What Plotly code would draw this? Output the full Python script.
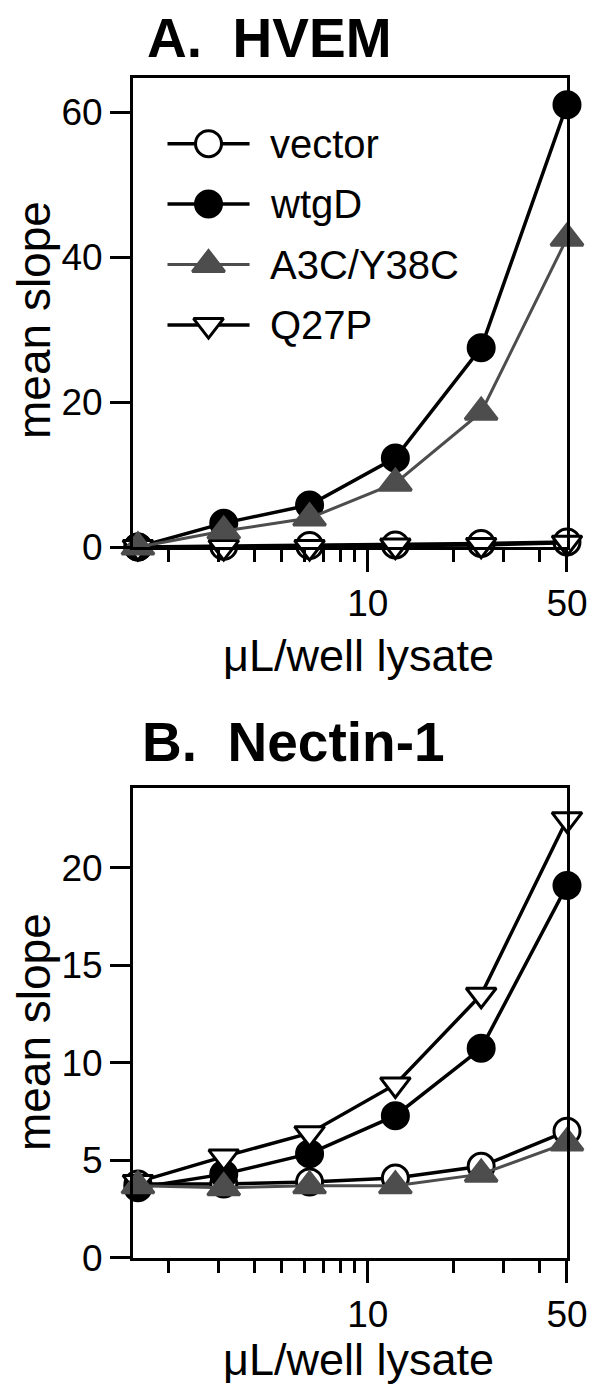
import plotly.graph_objects as go

# two-fold dilutions of lysate (uL/well)
lysate = [1.5625, 3.125, 6.25, 12.5, 25, 50]

# A. HVEM
hvem_vector = [0.0, 0.1, 0.2, 0.3, 0.5, 0.7]
hvem_wtgd = [0.0, 3.3, 5.8, 12.3, 27.5, 61.0]
hvem_a3c = [0.0, 2.2, 4.0, 8.8, 18.6, 42.6]
hvem_q27p = [0.0, 0.0, 0.0, 0.2, 0.3, 0.6]

# B. Nectin-1
nectin_vector = [3.8, 3.8, 3.9, 4.1, 4.7, 6.5]
nectin_wtgd = [3.6, 4.3, 5.35, 7.3, 10.75, 19.1]
nectin_a3c = [3.7, 3.6, 3.7, 3.7, 4.3, 5.9]
nectin_q27p = [3.9, 5.2, 6.4, 8.9, 13.5, 22.5]

series_names = ["vector", "wtgD", "A3C/Y38C", "Q27P"]
y_ticks_a = [0, 20, 40, 60]
y_ticks_b = [0, 5, 10, 15, 20]
x_ticks = [10, 50]
x_minor = [2, 3, 4, 5, 6, 7, 8, 9, 20, 30, 40]

FONT = "Liberation Sans, Arial, Helvetica, sans-serif"
GRAY = "#4d4d4d"

STYLE = {
    "vector": dict(symbol="circle", size=26, color="white", line="black", lw=3.5),
    "wtgD": dict(symbol="circle", size=26, color="black", line="black", lw=3.5),
    "A3C/Y38C": dict(symbol="triangle-up", size=28, color=GRAY, line=GRAY, lw=3),
    "Q27P": dict(symbol="triangle-down", size=26, color="white", line="black", lw=3.5),
}


def series_trace(name, xs, ys, xa, ya):
    s = STYLE[name]
    return go.Scatter(
        x=xs, y=ys, mode="lines+markers", name=name, showlegend=False,
        xaxis=xa, yaxis=ya, cliponaxis=False,
        line=dict(color=s["line"], width=s["lw"]),
        marker=dict(symbol=s["symbol"], size=s["size"], color=s["color"],
                    line=dict(color=s["line"], width=3)),
    )


fig = go.Figure()

panels = [
    ("x", "y", dict(zip(series_names, [hvem_vector, hvem_wtgd, hvem_a3c, hvem_q27p]))),
    ("x2", "y2", dict(zip(series_names, [nectin_vector, nectin_wtgd, nectin_a3c, nectin_q27p]))),
]
# draw order: open circles, filled circles, open triangles, grey triangles on top
for xa, ya, data in panels:
    for name in ["vector", "wtgD", "Q27P", "A3C/Y38C"]:
        fig.add_trace(series_trace(name, lysate, data[name], xa, ya))

# hand-drawn legend inside panel A (hidden axes x3/y3)
LEG_X = [0.079, 0.269]
LEG_Y = [0.765, 0.970]
for i, name in enumerate(series_names):
    s = STYLE[name]
    fig.add_trace(go.Scatter(x=[0, 1], y=[i, i], mode="lines", showlegend=False,
                             xaxis="x3", yaxis="y3", hoverinfo="skip",
                             line=dict(color=s["line"], width=s["lw"])))
    fig.add_trace(go.Scatter(x=[0.5], y=[i], mode="markers", showlegend=False,
                             xaxis="x3", yaxis="y3", hoverinfo="skip", cliponaxis=False,
                             marker=dict(symbol=s["symbol"], size=s["size"], color=s["color"],
                                         line=dict(color=s["line"], width=3))))

xaxis_common = dict(
    type="log", range=[0.1765, 1.699], showline=True, linewidth=3, linecolor="black",
    mirror=True, ticks="outside", ticklen=22, tickwidth=3, tickcolor="black",
    tickvals=x_ticks, ticktext=[str(t) for t in x_ticks],
    minor=dict(ticks="outside", ticklen=12, tickwidth=3, tickcolor="black", tickvals=x_minor),
    showgrid=False, zeroline=False, tickfont=dict(size=37, color="black"),
)
yaxis_common = dict(
    showline=True, linewidth=3, linecolor="black", mirror=True,
    ticks="outside", ticklen=20, tickwidth=3, tickcolor="black",
    showgrid=False, zeroline=False, tickfont=dict(size=37, color="black"),
)

annotations = [
    dict(text="<b>A.\u00a0 HVEM</b>", x=0.3145, y=(1258 - 38) / 1180, font=dict(size=55)),
    dict(text="<b>B.\u00a0 Nectin-1</b>", x=0.369, y=0.437, font=dict(size=55)),
    dict(text="mean slope", x=-0.228, y=0.795, textangle=-90, font=dict(size=46)),
    dict(text="mean slope", x=-0.228, y=0.1915, textangle=-90, font=dict(size=46)),
    dict(text="\u03bcL/well lysate", x=0.52, y=(1258 - 655) / 1180, font=dict(size=45)),
    dict(text="\u03bcL/well lysate", x=0.52, y=(1258 - 1359) / 1180, font=dict(size=45)),
]
# legend labels, rows evenly spaced down the legend box
for i, name in enumerate(series_names):
    row_y = LEG_Y[1] - (i + 0.5) * (LEG_Y[1] - LEG_Y[0]) / len(series_names)
    annotations.append(dict(text=name, x=LEG_X[0] + 1.22 * (LEG_X[1] - LEG_X[0]), y=row_y,
                            xanchor="left", font=dict(size=40)))
for a in annotations:
    a.update(xref="paper", yref="paper", showarrow=False, yanchor="middle")
    a.setdefault("xanchor", "center")
    a["font"].update(color="black", family=FONT)

fig.update_layout(
    width=600, height=1387,
    margin=dict(l=133, r=25, t=78, b=129),
    paper_bgcolor="white", plot_bgcolor="white",
    font=dict(family=FONT, color="black"),
    showlegend=False,
    xaxis=dict(**xaxis_common, domain=[0, 1], anchor="y"),
    yaxis=dict(**yaxis_common, domain=[0.6025, 1], anchor="x", range=[0, 64.7], tickvals=y_ticks_a),
    xaxis2=dict(**xaxis_common, domain=[0, 1], anchor="y2"),
    yaxis2=dict(**yaxis_common, domain=[0, 0.3983], anchor="x2", range=[0, 24.1], tickvals=y_ticks_b),
    xaxis3=dict(domain=LEG_X, range=[0, 1], visible=False, anchor="y3"),
    yaxis3=dict(domain=LEG_Y, range=[3.5, -0.5], visible=False, anchor="x3"),
    annotations=annotations,
)

# drop the page's default 8px body margin so the figure fills the window
fig.write_html("out.html", config={"displayModeBar": False},
               post_script="document.body.style.margin='0';")
